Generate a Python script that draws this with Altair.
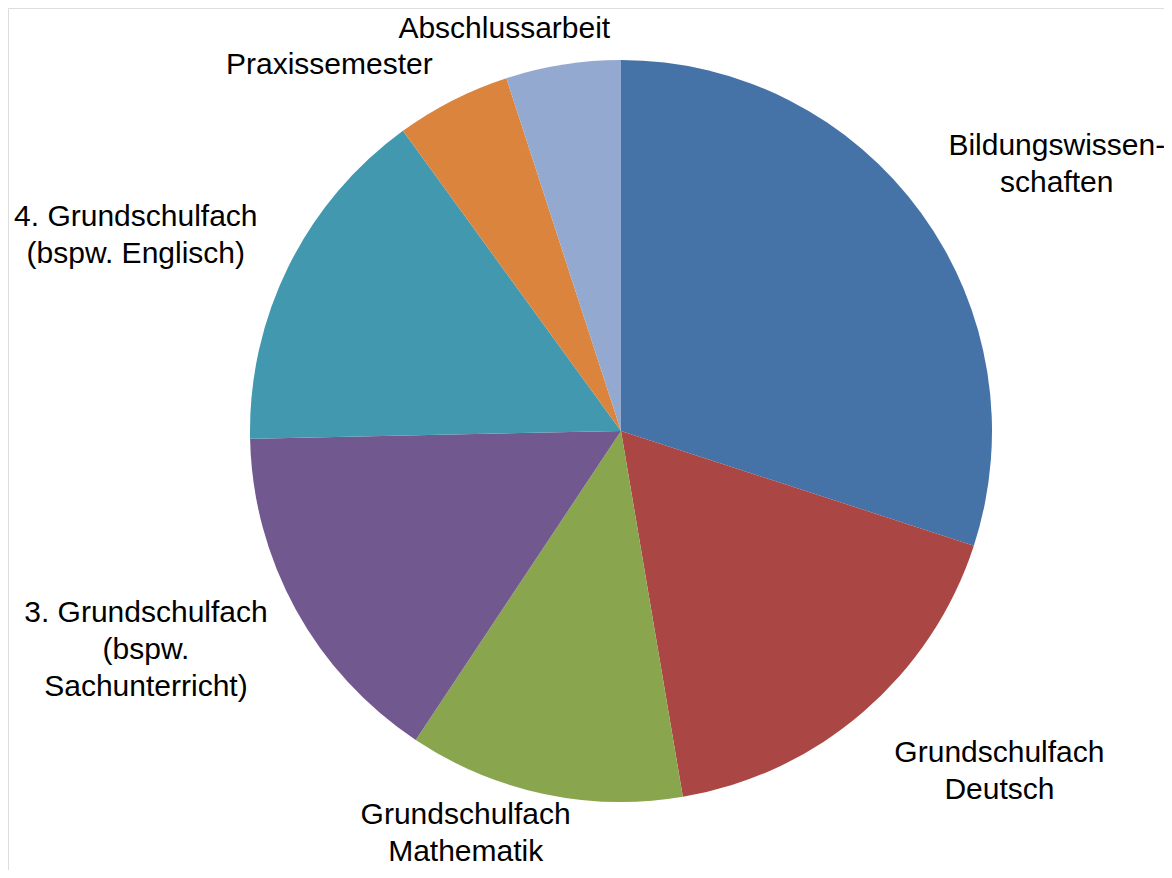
import altair as alt
import pandas as pd

categories = [
    "Bildungswissenschaften",
    "Grundschulfach Deutsch",
    "Grundschulfach Mathematik",
    "3. Grundschulfach (bspw. Sachunterricht)",
    "4. Grundschulfach (bspw. Englisch)",
    "Praxissemester",
    "Abschlussarbeit",
]
labels = [
    "Bildungswissen-\nschaften",
    "Grundschulfach\nDeutsch",
    "Grundschulfach\nMathematik",
    "3. Grundschulfach\n(bspw.\nSachunterricht)",
    "4. Grundschulfach\n(bspw. Englisch)",
    "Praxissemester",
    "Abschlussarbeit",
]
values = [90, 52, 36, 46, 46, 15, 15]
colors = ["#4572A7", "#AA4643", "#89A54E", "#71588F", "#4198AF", "#DB843D", "#93A9CF"]

# label nudges (dx, dy) from the mid-angle anchor
nudges = [(96, -29), (104, 13), (-68, -18), (-107, -11), (-109, -18), (-101, 17), (-51, 22)]

df = pd.DataFrame({
    "cat": categories,
    "label": labels,
    "value": values,
    "idx": list(range(len(values))),
})

CX, CY = 613, 423
R = 371
FONT = "Liberation Sans, Arial, sans-serif"

base = alt.Chart(df)

pie = base.mark_arc(strokeWidth=0).encode(
    theta=alt.Theta("value:Q", stack=True),
    order=alt.Order("idx:Q"),
    color=alt.Color("cat:N", scale=alt.Scale(domain=categories, range=colors), legend=None),
    x=alt.value(CX),
    y=alt.value(CY),
    radius=alt.value(R),
)

layers = [pie]
for c, (ddx, ddy) in zip(categories, nudges):
    t = base.mark_text(
        font=FONT, fontSize=30, color="#000000", align="center", baseline="alphabetic",
        lineBreak="\n", lineHeight=37, dx=ddx, dy=ddy,
    ).encode(
        theta=alt.Theta("value:Q", stack=True),
        order=alt.Order("idx:Q"),
        x=alt.value(CX),
        y=alt.value(CY),
        radius=alt.value(420),
        text=alt.condition(f"datum.cat == '{c}'", "label:N", alt.value("")),
    )
    layers.append(t)

chart = alt.layer(*layers).properties(
    width=1156, height=862,
    autosize=alt.AutoSizeParams(type="none"),
    padding=0,
).configure_view(stroke="transparent", strokeWidth=0).configure(background="white")

chart.save("out.html", embed_options={"renderer": "svg", "actions": False})
